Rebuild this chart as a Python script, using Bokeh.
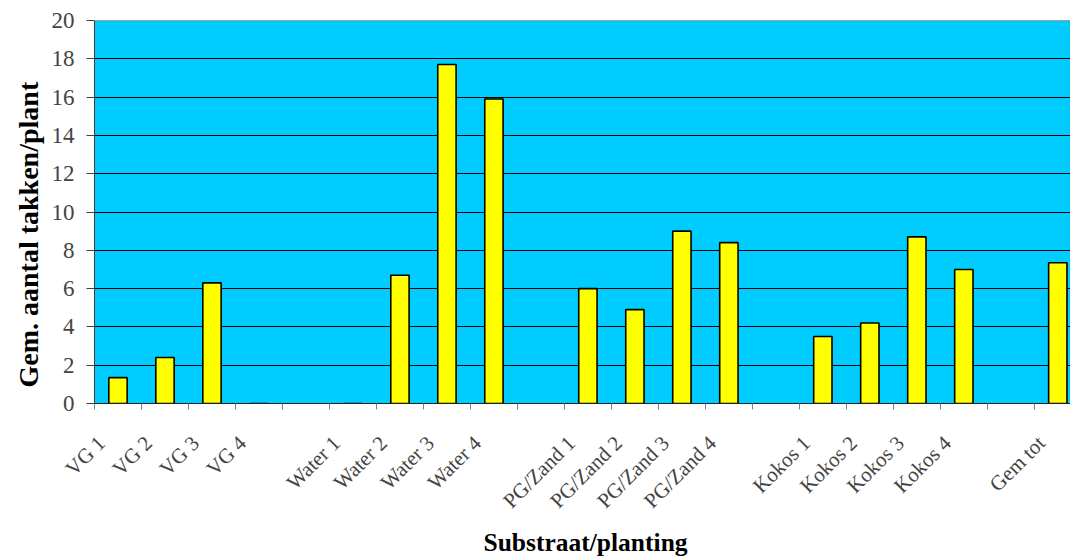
import math
from bokeh.plotting import figure
from bokeh.models import (Range1d, FixedTicker, Span, ColumnDataSource,
                          CustomJSTickFormatter, Title)
from bokeh.embed import file_html
from bokeh.resources import INLINE

# Category labels along the x axis; "" marks an empty spacer slot between groups
categories = ["VG 1", "VG 2", "VG 3", "VG 4", "",
              "Water 1", "Water 2", "Water 3", "Water 4", "",
              "PG/Zand 1", "PG/Zand 2", "PG/Zand 3", "PG/Zand 4", "",
              "Kokos 1", "Kokos 2", "Kokos 3", "Kokos 4", "",
              "Gem tot"]
# Average number of branches per plant (None = spacer, no bar)
takken = [1.35, 2.4, 6.3, 0.0, None,
          0.0, 6.7, 17.7, 15.9, None,
          6.0, 4.9, 9.0, 8.4, None,
          3.5, 4.2, 8.7, 7.0, None,
          7.35]
y_ticks = [0, 2, 4, 6, 8, 10, 12, 14, 16, 18, 20]

SERIF = "Liberation Serif"

xs, tops = [], []
for i, v in enumerate(takken):
    if v is not None:
        xs.append(i + 0.5)
        tops.append(v)
src = ColumnDataSource(dict(x=xs, top=tops))

n = len(categories)
p = figure(width=1070, height=557, output_backend="svg", toolbar_location=None,
           x_range=Range1d(0, 20.77), y_range=Range1d(0, 20),
           min_border_left=94, min_border_top=20, min_border_right=0,
           min_border_bottom=154)
p.background_fill_color = "#00CCFF"
p.border_fill_color = "white"
p.outline_line_color = None

p.vbar(x="x", top="top", width=0.39, bottom=0, source=src,
       fill_color="#FFFF00", line_color="black", line_width=1.6)

# y axis
yt = FixedTicker(ticks=y_ticks, minor_ticks=[])
p.yaxis.ticker = yt
p.ygrid.ticker = yt
p.ygrid.grid_line_color = "black"
p.ygrid.grid_line_width = 1
p.xgrid.grid_line_color = None
p.yaxis.axis_line_color = "#404040"
p.yaxis.major_tick_line_color = "#404040"
p.yaxis.major_tick_out = 8
p.yaxis.major_tick_in = 0
p.yaxis.minor_tick_line_color = None
p.yaxis.major_label_text_font = SERIF
p.yaxis.major_label_text_font_size = "23px"
p.yaxis.major_label_standoff = 12

# x axis: labels sit slightly left of each slot centre, tick marks on slot boundaries
xt = FixedTicker(ticks=[i + 0.15 for i in range(n)],
                 minor_ticks=list(range(n + 1)))
p.xaxis.ticker = xt
p.xaxis.formatter = CustomJSTickFormatter(
    args=dict(labels=categories),
    code="return labels[Math.floor(tick)] || '';")
p.xaxis.major_tick_line_color = None
p.xaxis.major_tick_out = 0
p.xaxis.minor_tick_line_color = "#808080"
p.xaxis.minor_tick_out = 6
p.xaxis.minor_tick_in = 0
p.xaxis.axis_line_color = "#202020"
p.xaxis.major_label_orientation = math.pi / 4
p.xaxis.major_label_text_font = SERIF
p.xaxis.major_label_text_font_size = "21px"
p.xaxis.major_label_standoff = 30

p.add_layout(Span(location=20, dimension="width", line_color="#808080",
                  line_width=1.5))

# axis titles
p.add_layout(Title(text="Gem. aantal takken/plant", align="left",
                   offset=16, standoff=10,
                   text_font=SERIF, text_font_style="bold",
                   text_font_size="28px", text_color="black"), "left")
p.add_layout(Title(text="Substraat/planting", align="left",
                   offset=389, standoff=2,
                   text_font=SERIF, text_font_style="bold",
                   text_font_size="25.5px", text_color="black"), "below")

open("out.html", "w").write(file_html(p, INLINE))
